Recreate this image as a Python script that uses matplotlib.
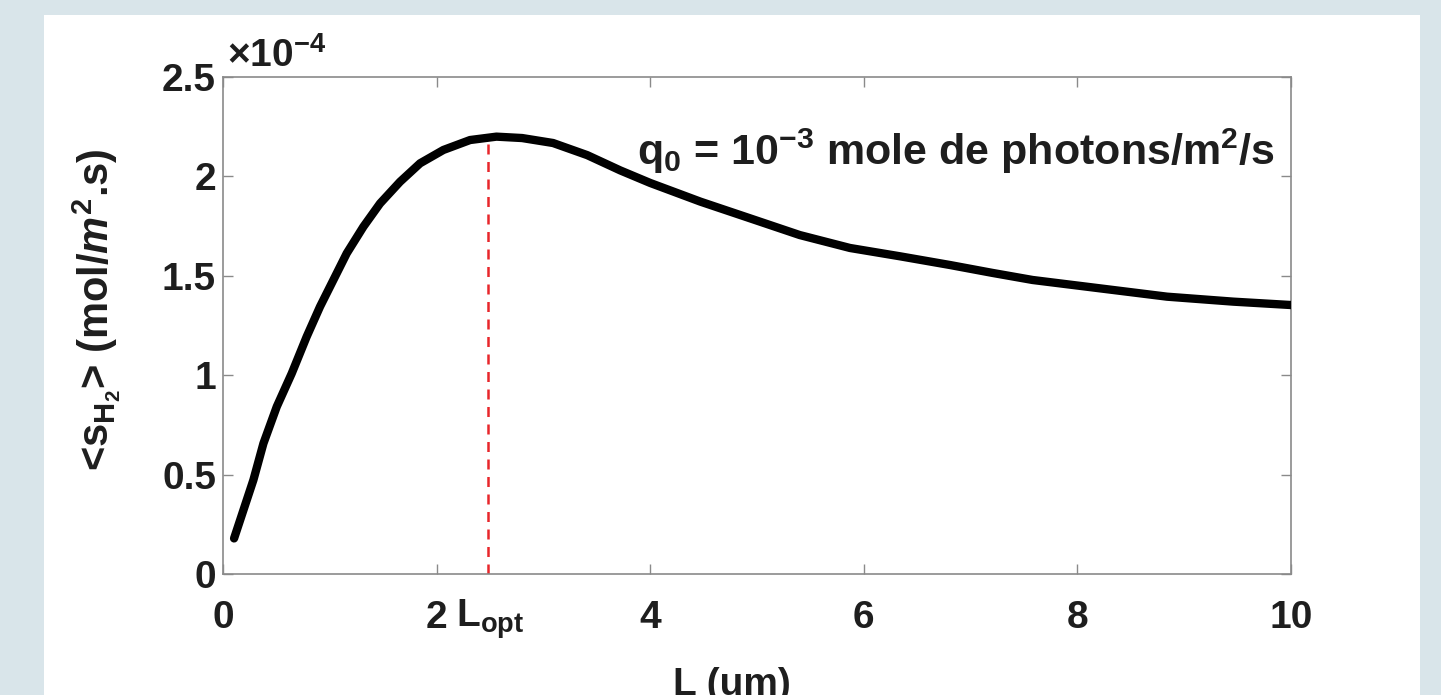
import numpy as np
import matplotlib.pyplot as plt
from matplotlib.patches import Rectangle
from matplotlib.transforms import blended_transform_factory

# curve (L in um, <s_H2> in units of 1e-4 mol/m2/s)
L_um = [0.103, 0.284, 0.378, 0.503, 0.643, 0.783, 0.908, 1.033, 1.158, 1.314,
        1.47, 1.657, 1.845, 2.063, 2.313, 2.56, 2.8, 3.09, 3.41, 3.72,
        4.0, 4.47, 4.93, 5.40, 5.87, 6.34, 6.81, 7.2, 7.58, 8.21, 8.84,
        9.46, 10.0]
s_H2 = [0.179, 0.473, 0.657, 0.842, 1.009, 1.194, 1.345, 1.479, 1.613, 1.747,
        1.864, 1.973, 2.066, 2.133, 2.183, 2.200, 2.193, 2.168, 2.107, 2.03,
        1.967, 1.873, 1.79, 1.705, 1.64, 1.598, 1.554, 1.515, 1.479, 1.437, 1.395,
        1.37, 1.353]
L_opt = 2.48
s_peak = 2.20

xticks = [0, 2, 4, 6, 8, 10]
xticklabels = ['0', '2', '4', '6', '8', '10']
yticks = [0, 0.5, 1, 1.5, 2, 2.5]
yticklabels = ['0', '0.5', '1', '1.5', '2', '2.5']

plt.rcParams['font.family'] = ['Liberation Sans', 'DejaVu Sans']
plt.rcParams['font.weight'] = 'bold'
plt.rcParams['mathtext.fontset'] = 'custom'
plt.rcParams['mathtext.rm'] = 'Liberation Sans:bold'
plt.rcParams['mathtext.bf'] = 'Liberation Sans:bold'
plt.rcParams['mathtext.it'] = 'Liberation Sans:bold:italic'

fs = 28
txt_col = '#1e1e1e'
grey = '#8a8a8a'

fig = plt.figure(figsize=(14.41, 6.95), dpi=100, facecolor='#d9e5ea')
# white panel behind the plot
fig.patches.append(Rectangle((44 / 1441, 0), (1420 - 44) / 1441, (695 - 15) / 695,
                             transform=fig.transFigure, facecolor='white',
                             edgecolor='none', zorder=-5))

ax = fig.add_axes([0.1548, 0.1741, 0.7411, 0.7151])
ax.set_facecolor('white')

ax.plot(L_um, s_H2, color='black', lw=6, solid_capstyle='round',
        solid_joinstyle='round', zorder=3)
ax.plot([L_opt, L_opt], [0, s_peak], color='#e8262b', lw=1.8,
        linestyle=(0, (4, 3)), zorder=2)

ax.set_xlim(0, 10)
ax.set_ylim(0, 2.5)
ax.set_xticks(xticks)
ax.set_xticklabels(xticklabels)
ax.set_yticks(yticks)
ax.set_yticklabels(yticklabels)
ax.tick_params(direction='in', length=7, width=1, color=grey, labelsize=fs,
               labelcolor=txt_col, top=True, right=True)
ax.tick_params(axis='x', pad=19)
ax.tick_params(axis='y', pad=5)
for sp in ax.spines.values():
    sp.set_color(grey)
    sp.set_linewidth(1.2)

# L_opt written next to the "2" tick label
trans = blended_transform_factory(ax.transData, ax.transAxes)
ax.text(2.18, -0.046, r'L$_{\mathrm{opt}}$', transform=trans, ha='left', va='top',
        fontsize=fs, color=txt_col, fontweight='bold')

ax.text(0.004, 1.02, '×10$^{-4}$', transform=ax.transAxes, ha='left',
        va='baseline', fontsize=fs, color=txt_col, fontweight='bold')

ax.text(0.985, 0.823, r'q$_0$ = 10$^{-3}$ mole de photons/m$^2$/s',
        transform=ax.transAxes, ha='right', va='baseline', fontsize=31,
        color=txt_col, fontweight='bold')

ax.set_ylabel(r'<s$_{\mathrm{H}_2}$> (mol/$m^2$.s)', fontsize=30,
              color=txt_col, fontweight='bold')
ax.yaxis.set_label_coords(-0.094, 0.531)
ax.set_xlabel('L (um)', fontsize=fs, color=txt_col, fontweight='bold')
ax.xaxis.set_label_coords(0.476, -0.187)

fig.savefig('out.png', dpi=100, facecolor=fig.get_facecolor())
